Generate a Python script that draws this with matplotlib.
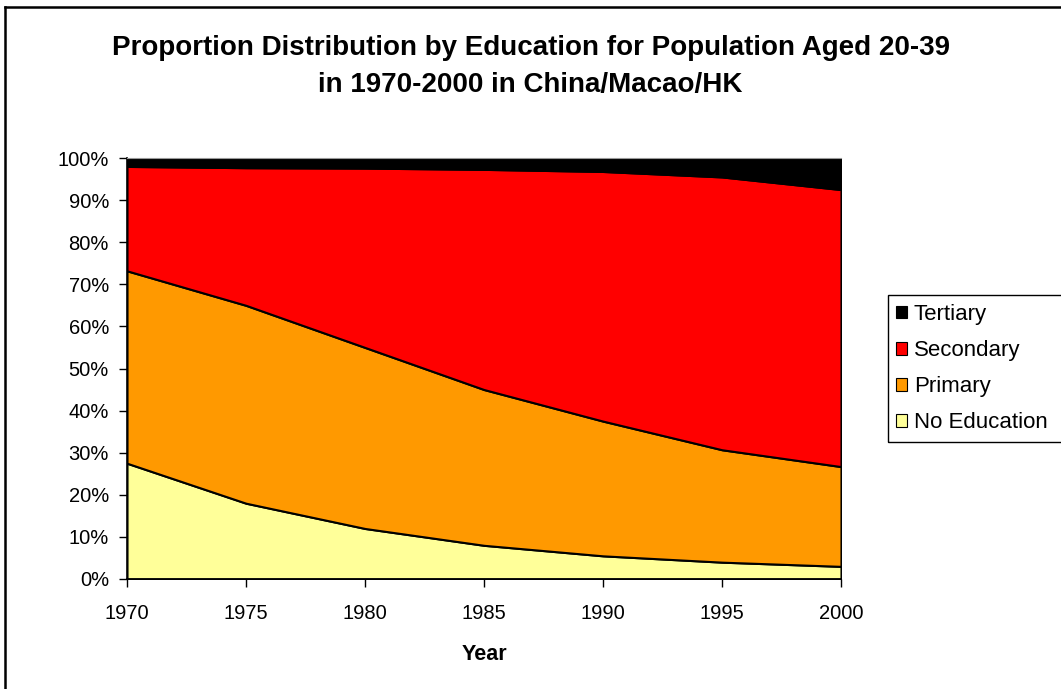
import numpy as np
import matplotlib.pyplot as plt
from matplotlib.patches import Rectangle
from matplotlib.lines import Line2D

plt.rcParams['font.family'] = ['Liberation Sans', 'DejaVu Sans']

years = [1970, 1975, 1980, 1985, 1990, 1995, 2000]
# shares in percent
no_education = [27.5, 18.0, 12.0, 8.0, 5.5, 4.0, 3.0]
primary = [45.7, 47.0, 43.0, 37.0, 32.0, 26.7, 23.7]
secondary = [24.8, 32.7, 42.6, 52.3, 59.3, 64.8, 65.8]
tertiary = [2.0, 2.3, 2.4, 2.7, 3.2, 4.5, 7.5]

labels = ['No Education', 'Primary', 'Secondary', 'Tertiary']
colors = ['#FFFF99', '#FF9900', '#FF0000', '#000000']

W, H = 1061, 689
fig = plt.figure(figsize=(W / 100, H / 100), dpi=100)
ax = fig.add_axes([127 / W, 1 - 579 / H, (841 - 127) / W, (579 - 158) / H])

ax.stackplot(years, no_education, primary, secondary, tertiary,
             colors=colors, labels=labels, edgecolor='black', linewidth=1.5)

ax.set_xlim(1970, 2000)
ax.set_ylim(0, 100)
ax.set_xticks(years)
ax.set_yticks(np.arange(0, 101, 10))
ax.set_yticklabels([f'{v}%' for v in range(0, 101, 10)])
ax.tick_params(axis='both', labelsize=14.5, direction='out', length=6, width=1)
ax.tick_params(axis='x', pad=12)
ax.tick_params(axis='y', pad=7)
ax.spines['top'].set_color('#999999')
ax.spines['right'].set_visible(False)
ax.spines['left'].set_linewidth(1.2)
ax.spines['bottom'].set_linewidth(1.2)
ax.set_xlabel('Year', fontsize=15.5, fontweight='bold', labelpad=15)

fig.text(0.5, 1 - 48 / H, 'Proportion Distribution by Education for Population Aged 20-39',
         ha='center', va='center', fontsize=20, fontweight='bold')
fig.text(0.5, 1 - 85 / H, 'in 1970-2000 in China/Macao/HK',
         ha='center', va='center', fontsize=20, fontweight='bold')

handles, lbls = ax.get_legend_handles_labels()
leg = fig.legend(handles[::-1], lbls[::-1], loc='upper left',
                 bbox_to_anchor=(896 / W, 1 - 304 / H), fontsize=16,
                 frameon=False, borderpad=0, borderaxespad=0,
                 handlelength=0.5, handleheight=0.5, handletextpad=0.3,
                 labelspacing=0.68)
for h in leg.legend_handles:
    h.set_linewidth(0.8)

# legend frame runs off the right edge of the picture
fig.patches.append(Rectangle((888 / W, 1 - 442 / H), 200 / W, 147 / H,
                             transform=fig.transFigure, fill=False,
                             edgecolor='black', linewidth=1))

# chart border, only top and left fall inside the picture
fig.lines.append(Line2D([5 / W, 5 / W], [0, 1 - 7 / H], transform=fig.transFigure,
                        color='black', linewidth=1.8))
fig.lines.append(Line2D([5 / W, 1], [1 - 7 / H, 1 - 7 / H], transform=fig.transFigure,
                        color='black', linewidth=1.8))

fig.savefig('out.png', dpi=100)
